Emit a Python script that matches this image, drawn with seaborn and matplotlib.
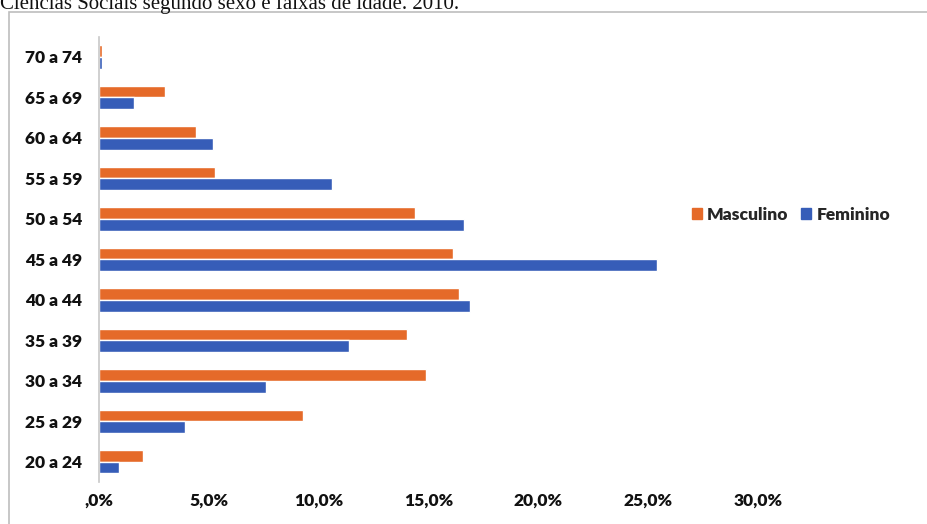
import matplotlib
matplotlib.use("Agg")
import matplotlib.pyplot as plt
import matplotlib.patches as mpatches
from matplotlib.ticker import FuncFormatter
import pandas as pd
import seaborn as sns

faixas = ["70 a 74", "65 a 69", "60 a 64", "55 a 59", "50 a 54", "45 a 49",
          "40 a 44", "35 a 39", "30 a 34", "25 a 29", "20 a 24"]
masculino = [0.15, 3.0, 4.4, 5.3, 14.4, 16.1, 16.4, 14.0, 14.9, 9.3, 2.0]
feminino = [0.15, 1.6, 5.2, 10.6, 16.6, 25.4, 16.9, 11.4, 7.6, 3.9, 0.9]
sexos = ["Masculino", "Feminino"]
cores = ["#E56A29", "#365DB8"]
titulo = "Ciências Sociais segundo sexo e faixas de idade. 2010."

df = pd.DataFrame({
    "faixa": faixas * 2,
    "sexo": ["Masculino"] * len(faixas) + ["Feminino"] * len(faixas),
    "valor": [v / 100 for v in masculino + feminino],
})

sns.set_style("white")
plt.rcParams["font.family"] = ["Lato", "DejaVu Sans"]

fig = plt.figure(figsize=(9.27, 5.24), dpi=100)
ax = fig.add_axes([99 / 927, 1 - 482 / 524, (758 - 99) / 927, (482 - 36.75) / 524])

sns.barplot(data=df, y="faixa", x="valor", hue="sexo", order=faixas,
            hue_order=sexos, palette=cores, width=0.58, saturation=1,
            orient="h", ax=ax, legend=False)

ax.set_xlim(0, 0.30)
ax.set_xticks([0, 0.05, 0.10, 0.15, 0.20, 0.25, 0.30])
ax.xaxis.set_major_formatter(FuncFormatter(
    lambda v, _: ",0%" if v == 0 else f"{v * 100:.1f}%".replace(".", ",")))
ax.set_xlabel("")
ax.set_ylabel("")
ax.tick_params(axis="y", length=0, pad=12, labelsize=12.5)
ax.tick_params(axis="x", length=0, pad=8, labelsize=12.5)
for lab in ax.get_xticklabels() + ax.get_yticklabels():
    lab.set_fontweight("heavy")
    lab.set_color("#111111")

for side in ["top", "right", "bottom"]:
    ax.spines[side].set_visible(False)
ax.spines["left"].set_color("#c8c8c8")
ax.spines["left"].set_linewidth(1.2)

handles = [mpatches.Patch(color=c, label=s) for c, s in zip(cores, sexos)]
fig.legend(handles=handles, loc="center left", ncol=2, frameon=False,
           bbox_to_anchor=(676 / 927, 1 - 215 / 524),
           handlelength=0.6, handleheight=0.6, handletextpad=0.3,
           columnspacing=0.7, prop={"weight": "heavy", "size": 12.5})

# moldura externa do gráfico
fig.patches.append(mpatches.Rectangle(
    (8.5 / 927, -0.05), 1.0, 1 - 12 / 524 + 0.05, transform=fig.transFigure,
    fill=False, edgecolor="#bdbdbd", linewidth=1.2))

fig.text(0.0, 1 - 4 / 524, titulo, family="Liberation Serif", fontsize=15,
         va="center", ha="left", color="#111111")

fig.savefig("out.png", dpi=100)
